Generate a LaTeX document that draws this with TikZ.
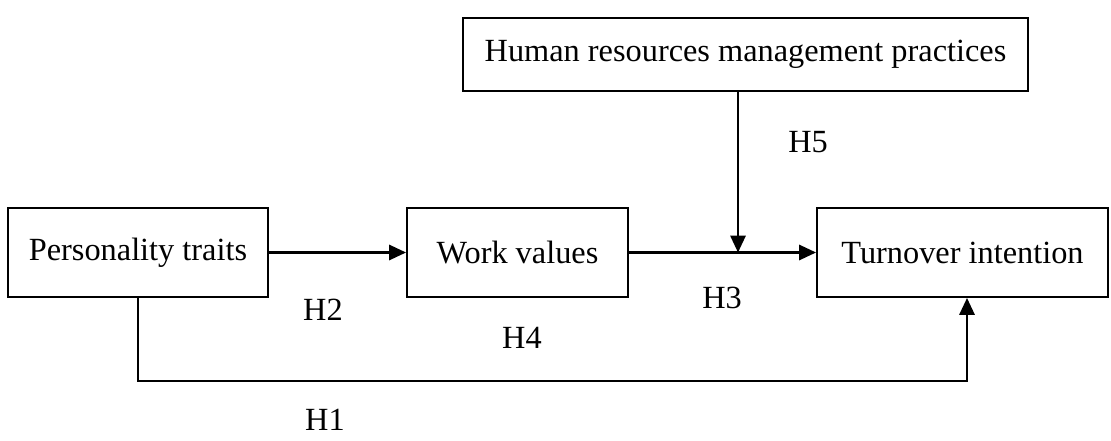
\documentclass[tikz,border=0pt]{standalone}
\usepackage{fontspec}
\setmainfont{Liberation Serif}
\usetikzlibrary{calc, arrows.meta}

\begin{document}
\begin{tikzpicture}[font=\fontsize{23}{27}\selectfont,
    factor/.style={draw, line width=1.4pt, inner sep=0pt},
    hyp/.style={inner sep=0pt},
    link/.style={line width=1.5pt, -{Triangle[length=0.42cm, width=0.38cm]}}]
        \useasboundingbox (0,0) rectangle (27.775,11);

        \node[factor, minimum width=6.5cm, minimum height=2.225cm] (traits) at (3.45,4.6875) {Personality traits};
        \node[factor, minimum width=5.525cm, minimum height=2.225cm] (values) at (12.9375,4.6875) {Work values};
        \node[factor, minimum width=7.275cm, minimum height=2.225cm] (turnover) at (24.0625,4.6875) {Turnover intention};
        \node[factor, minimum width=14.125cm, minimum height=1.825cm] (hrm) at (18.6375,9.6375) {Human resources management practices};

        \coordinate (meet) at (18.45,4.6875);
        \coordinate (low) at (24.175,1.475);

        \draw[link] (traits) -- (values);
        \draw[link] (values) -- (turnover);
        \draw[link] (hrm.south -| meet) -- (meet);
        \draw[link] (traits.south) |- (low) -- (low |- turnover.south);

        \node[hyp] (h5) at (20.2,7.45) {H5};
        \node[hyp] (h2) at (8.075,3.25) {H2};
        \node[hyp] (h3) at (18.05,3.55) {H3};
        \node[hyp] (h4) at (13.05,2.55) {H4};
        \node[hyp] (h1) at (8.125,0.5) {H1};
\end{tikzpicture}
\end{document}
